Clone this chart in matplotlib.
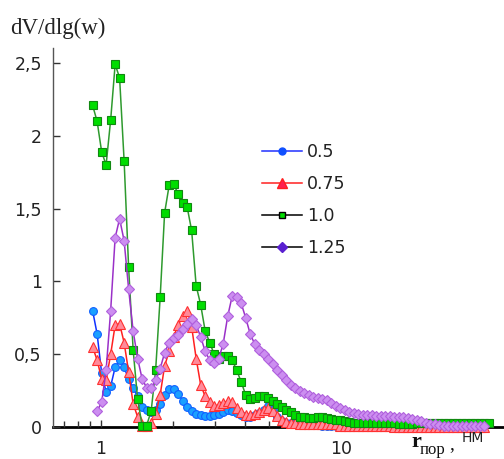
import numpy as np
import matplotlib
matplotlib.use("Agg")
import matplotlib.pyplot as plt
from matplotlib.lines import Line2D
from matplotlib.ticker import FixedLocator, LogLocator, NullFormatter

nan = np.nan

# pore radius grid, nm
r = [0.923, 0.964, 1.007, 1.051, 1.098, 1.146, 1.196, 1.249, 1.304, 1.362,
     1.422, 1.485, 1.550, 1.619, 1.690, 1.765, 1.842, 1.924, 2.009, 2.097,
     2.190, 2.287, 2.387, 2.493, 2.603, 2.718, 2.838, 2.963, 3.094, 3.230,
     3.373, 3.522, 3.677, 3.839, 4.009, 4.185, 4.370, 4.563, 4.764, 4.974,
     5.194, 5.423, 5.662, 5.912, 6.172, 6.445, 6.729, 7.026, 7.336, 7.659,
     7.997, 8.350, 8.718, 9.103, 9.504, 9.924, 10.36, 10.82, 11.30, 11.80,
     12.31, 12.86, 13.43, 14.02, 14.64, 15.28, 15.96, 16.66, 17.40, 18.16,
     18.97, 19.80, 20.68, 21.59, 22.54, 23.54, 24.57, 25.66, 26.79, 27.97,
     29.21, 30.49, 31.84, 33.24, 34.71, 36.24, 37.84, 39.51, 41.25]

v_05 = [0.80, 0.64, 0.37, 0.24, 0.28, 0.41, 0.46, 0.41, 0.33, 0.27,
        0.21, 0.14, 0.12, 0.10, 0.12, 0.16, 0.22, 0.26, 0.26, 0.23,
        0.18, 0.14, 0.11, 0.09, 0.085, 0.078, 0.078, 0.08, 0.09, 0.105,
        0.115, 0.11, 0.095, 0.08, 0.07, 0.07, 0.08, 0.095, 0.12, 0.145,
        0.12, 0.07, 0.04, 0.03, 0.025, 0.02, 0.02, 0.02, 0.015, 0.015,
        0.015, 0.01, 0.01, 0.01, 0.01, 0.01, 0.01, 0.01, 0.01, 0.01,
        0.01, 0.01, 0.01, 0.01, 0.01, 0.01, 0.01, 0.01, 0.01, 0.01,
        0.005, 0.005, 0.005, 0.005, 0.005, 0.005, 0.005, 0.005, 0.005, 0.005,
        nan, nan, nan, nan, nan, nan, nan, nan, nan]

v_075 = [0.55, 0.46, 0.33, 0.32, 0.50, 0.70, 0.71, 0.58, 0.38, 0.16,
         0.07, 0.01, 0.01, 0.025, 0.09, 0.22, 0.42, 0.52, 0.62, 0.70,
         0.76, 0.80, 0.69, 0.47, 0.29, 0.21, 0.17, 0.145, 0.15, 0.165,
         0.18, 0.17, 0.13, 0.10, 0.085, 0.08, 0.09, 0.105, 0.12, 0.13,
         0.11, 0.075, 0.05, 0.035, 0.03, 0.025, 0.02, 0.02, 0.02, 0.02,
         0.02, 0.02, 0.02, 0.02, 0.02, 0.01, 0.01, 0.005, 0.005, 0.005,
         0.005, 0.005, 0.005, 0.005, 0.005, 0.005, 0.005, 0.0, 0.0, 0.0,
         0.0, 0.0, 0.0, 0.0, 0.0, 0.0, 0.0, 0.0, 0.0, 0.0,
         0.0, 0.0, 0.0, 0.0, 0.0, 0.0, 0.0, 0.0, nan]

v_10 = [2.21, 2.10, 1.89, 1.80, 2.11, 2.49, 2.40, 1.83, 1.10, 0.53,
        0.19, 0.01, 0.01, 0.11, 0.39, 0.89, 1.47, 1.66, 1.67, 1.60,
        1.54, 1.51, 1.35, 0.97, 0.84, 0.66, 0.58, 0.50, 0.47, 0.49,
        0.49, 0.46, 0.39, 0.31, 0.22, 0.19, 0.20, 0.21, 0.21, 0.20,
        0.18, 0.16, 0.14, 0.12, 0.10, 0.08, 0.07, 0.07, 0.065, 0.065,
        0.07, 0.07, 0.065, 0.055, 0.05, 0.045, 0.04, 0.035, 0.03, 0.03,
        0.03, 0.03, 0.03, 0.03, 0.03, 0.03, 0.03, 0.025, 0.02, 0.02,
        0.02, 0.02, 0.025, 0.025, 0.025, 0.025, 0.025, 0.025, 0.025, 0.025,
        0.025, 0.025, 0.025, 0.025, 0.025, 0.025, 0.025, 0.025, 0.025]

v_125 = [nan, 0.11, 0.17, 0.39, 0.80, 1.30, 1.43, 1.28, 0.95, 0.66,
         0.47, 0.33, 0.27, 0.27, 0.32, 0.40, 0.51, 0.58, 0.61, 0.63,
         0.67, 0.71, 0.74, 0.70, 0.62, 0.52, 0.46, 0.44, 0.47, 0.57,
         0.76, 0.90, 0.89, 0.85, 0.75, 0.64, 0.57, 0.53, 0.50, 0.47,
         0.43, 0.39, 0.36, 0.32, 0.29, 0.27, 0.25, 0.235, 0.22, 0.205,
         0.20, 0.19, 0.185, 0.165, 0.145, 0.13, 0.118, 0.105, 0.094, 0.088,
         0.085, 0.082, 0.08, 0.078, 0.077, 0.075, 0.074, 0.072, 0.071, 0.07,
         0.065, 0.058, 0.05, 0.04, 0.03, 0.022, 0.018, 0.014, 0.01, 0.008,
         0.008, 0.008, 0.008, 0.008, 0.008, 0.008, 0.008, 0.008, nan]

labels = ["0.5", "0.75", "1.0", "1.25"]

fig = plt.figure(figsize=(5.04, 4.59), dpi=100)
ax = fig.add_axes([0.105, 0.0697, 0.893, 0.8257])

styles = [
    dict(color="#1030ff", marker="o", ms=5.6, mfc="#1aa0ff", mec="#1060ff"),
    dict(color="#ff2020", marker="^", ms=6.8, mfc="#ff8a9a", mec="#ff3030"),
    dict(color="#2e9a2e", marker="s", ms=5.6, mfc="#00dd00", mec="#118811"),
    dict(color="#9a30c8", marker="D", ms=5.6, mfc="#cc8ef0", mec="#b060dd"),
]
for vals, st in zip([v_05, v_075, v_10, v_125], styles):
    ax.plot(r, vals, lw=1.1, mew=0.8, clip_on=False, **st)

ax.set_xscale("log")
ax.set_xlim(0.631, 47.3)
ax.set_ylim(0, 2.603)

ax.xaxis.set_major_locator(FixedLocator([1, 10]))
ax.set_xticklabels(["1", "10"])
ax.xaxis.set_minor_locator(LogLocator(base=10, subs=np.arange(2, 10)))
ax.xaxis.set_minor_formatter(NullFormatter())
ax.set_yticks([0, 0.5, 1, 1.5, 2, 2.5])
ax.set_yticklabels(["0", "0,5", "1", "1,5", "2", "2,5"])

for s in ["top", "right"]:
    ax.spines[s].set_visible(False)
ax.spines["left"].set_color("#555555")
ax.spines["left"].set_linewidth(1.0)
ax.spines["bottom"].set_color("black")
ax.spines["bottom"].set_linewidth(2.0)
ax.spines["bottom"].set_zorder(1)

ax.tick_params(axis="both", which="both", direction="in", colors="#333333",
               labelsize=12.5)
ax.tick_params(axis="y", length=5, width=1, pad=8)
ax.tick_params(axis="x", which="major", length=5, width=1, pad=9)
ax.tick_params(axis="x", which="minor", length=4, width=1)
for t in ax.get_xticklabels() + ax.get_yticklabels():
    t.set_fontfamily("DejaVu Sans")
    t.set_color("#222222")

handles = [
    Line2D([], [], color="#2030ff", marker="o", ms=5, mfc="#1050ff", mec="#1050ff", lw=1.1),
    Line2D([], [], color="#ff2020", marker="^", ms=6.5, mfc="#ff2050", mec="#ff2020", lw=1.1),
    Line2D([], [], color="black", marker="s", ms=5, mfc="#00dd00", mec="black", lw=1.1),
    Line2D([], [], color="black", marker="D", ms=5, mfc="#5a20d0", mec="#5a20d0", lw=1.1),
]
leg = fig.legend(handles, labels, loc="upper left", bbox_to_anchor=(0.520, 0.688),
                 frameon=False, handlelength=2.3, handletextpad=0.3,
                 labelspacing=0.8, borderpad=0, borderaxespad=0,
                 prop={"family": "DejaVu Sans", "size": 12.5})
for t in leg.get_texts():
    t.set_color("#222222")

W, H = 504, 459
fig.text(10 / W, 1 - 28 / H, "dV/dlg(w)", family="Liberation Serif",
         fontsize=16.5, va="center", ha="left", color="#222222")
fig.text(411 / W, 1 - 447 / H, "r", family="Liberation Serif", weight="bold",
         fontsize=16, va="baseline", ha="left", color="#111111")
fig.text(420 / W, 1 - 454 / H, "пор", family="Liberation Serif",
         fontsize=12, va="baseline", ha="left", color="#111111")
fig.text(449 / W, 1 - 449 / H, ",", family="Liberation Serif",
         fontsize=14, va="baseline", ha="left", color="#111111")
fig.text(462 / W, 1 - 442 / H, "НМ", family="DejaVu Sans",
         fontsize=10, va="baseline", ha="left", color="#222222")

fig.savefig("out.png", dpi=100)
